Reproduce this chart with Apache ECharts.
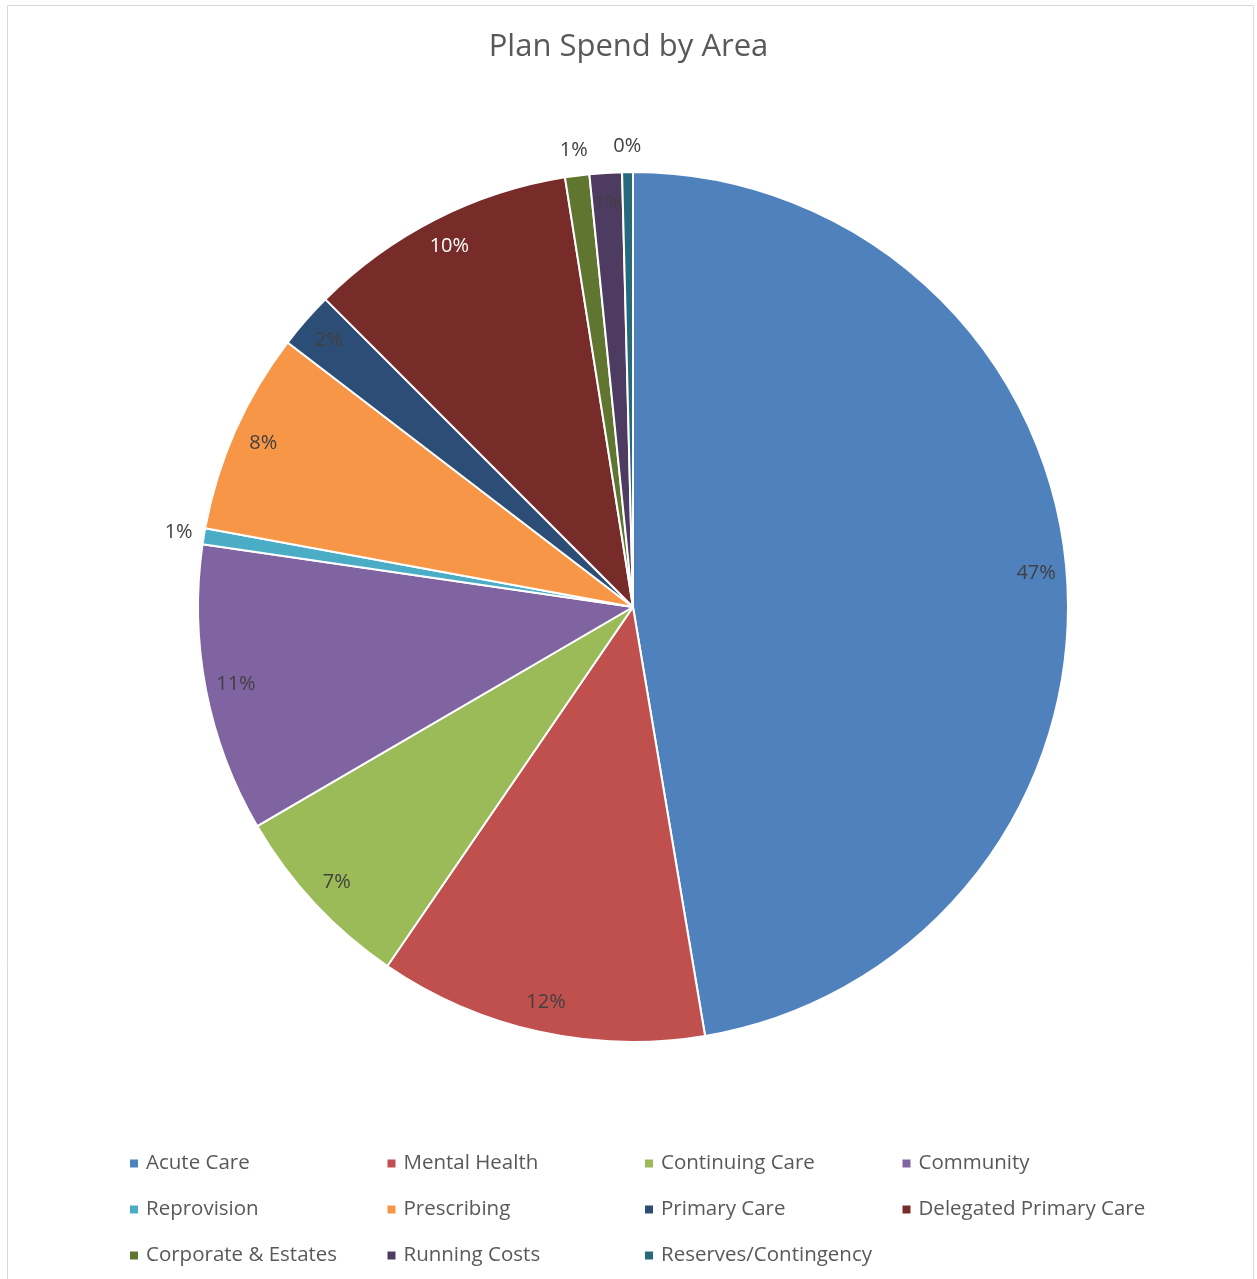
<!DOCTYPE html>
<html>
<head>
<meta charset="utf-8">
<script src="https://cdn.jsdelivr.net/npm/echarts@6/dist/echarts.min.js"></script>
<style>
  html, body { margin: 0; padding: 0; background: #fff; }
  #main { width: 1257px; height: 1279px; }
</style>
</head>
<body>
<div id="main"></div>
<script>
// slices, clockwise from 12 o'clock (share of plan, %)
const areas = ['Acute Care', 'Mental Health', 'Continuing Care', 'Community', 'Reprovision',
  'Prescribing', 'Primary Care', 'Delegated Primary Care', 'Corporate & Estates',
  'Running Costs', 'Reserves/Contingency'];
const spend = [47.35, 12.2, 7.05, 10.7, 0.6, 7.5, 2.1, 10.0, 0.9, 1.2, 0.4];
const colors = ['#4F81BD', '#C0504D', '#9BBB59', '#8064A2', '#4BACC6', '#F79646',
  '#2C4D75', '#772C2A', '#5F7530', '#4D3B62', '#276A7C'];
// which labels sit outside the pie
const outside = ['Reprovision', 'Corporate & Estates', 'Reserves/Contingency'];
const whiteLabel = ['Delegated Primary Care'];

// legend columns (4 columns, filled row by row)
const legendCols = [0, 1, 2, 3].map(c => areas.filter((_, i) => i % 4 === c));

const font = '"Open Sans", "Noto Sans", sans-serif';
const cx = 633, cy = 607, R = 435;

const pct = p => Math.round(p.value) + '%';

const mainData = areas.map((n, i) => ({ name: n, value: spend[i], itemStyle: { color: colors[i] } }));
const innerLabels = areas.map((n, i) => ({
  name: n, value: spend[i],
  label: { show: outside.indexOf(n) < 0, color: whiteLabel.indexOf(n) >= 0 ? '#ffffff' : '#404040' }
}));
const outerLabels = areas.map((n, i) => ({
  name: n, value: spend[i],
  label: { show: outside.indexOf(n) >= 0 }
}));

const labelSeries = (radius, data) => ({
  type: 'pie',
  center: [cx, cy],
  radius: radius,
  startAngle: 90,
  silent: true,
  avoidLabelOverlap: false,
  itemStyle: { color: 'transparent', borderWidth: 0 },
  emphasis: { disabled: true },
  label: { position: 'inside', formatter: pct, fontFamily: font, fontSize: 20, color: '#404040' },
  labelLine: { show: false },
  data: data
});

const option = {
  animation: false,
  title: {
    text: 'Plan Spend by Area',
    left: 'center',
    top: 27,
    textStyle: { fontFamily: font, fontSize: 31, fontWeight: 'normal', color: '#595959' }
  },
  graphic: [{
    type: 'rect',
    shape: { x: 7.5, y: 5.5, width: 1246, height: 1290 },
    style: { fill: 'none', stroke: '#d9d9d9', lineWidth: 1 },
    silent: true
  }],
  legend: legendCols.map((names, c) => ({
    orient: 'vertical',
    left: 123 + c * 257.5,
    top: 1148,
    data: names,
    icon: 'rect',
    itemWidth: 10,
    itemHeight: 10,
    itemGap: 25,
    selectedMode: false,
    textStyle: { fontFamily: font, fontSize: 20.5, lineHeight: 21, color: '#595959', padding: [0, 0, 0, 2] }
  })),
  series: [
    {
      type: 'pie',
      center: [cx, cy],
      radius: R,
      startAngle: 90,
      silent: true,
      itemStyle: { borderColor: '#ffffff', borderWidth: 2 },
      label: { show: false },
      labelLine: { show: false },
      data: mainData
    },
    labelSeries([368, R], innerLabels),
    labelSeries([R, 480], outerLabels)
  ]
};

const chart = echarts.init(document.getElementById('main'));
chart.setOption(option);
</script>
</body>
</html>
